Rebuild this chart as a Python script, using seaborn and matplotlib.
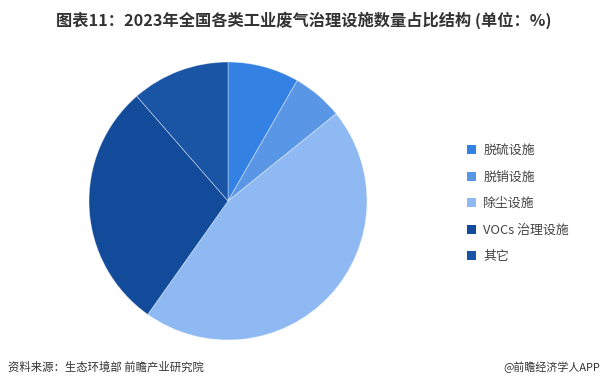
import matplotlib
matplotlib.use("Agg")
import matplotlib.pyplot as plt
import seaborn as sns
from matplotlib.patches import Patch

sns.set_theme(style="white")
plt.rcParams['font.family'] = ['Noto Sans CJK SC', 'DejaVu Sans']

categories = ["脱硫设施", "脱销设施", "除尘设施", "VOCs 治理设施", "其它"]
values = [8.3, 5.9, 45.6, 28.8, 11.4]
colors = ["#3381E3", "#5A96E6", "#8FB9F2", "#124B9A", "#1A55A5"]

title = "图表11：2023年全国各类工业废气治理设施数量占比结构 (单位：%)"
source = "资料来源：生态环境部 前瞻产业研究院"
credit = "@前瞻经济学人APP"

fig = plt.figure(figsize=(6.07, 3.88), dpi=100)
fig.patch.set_facecolor("white")

ax = fig.add_axes([89/607, 48/388, 278/607, 278/388])
wedges, _ = ax.pie(values, colors=colors, startangle=90, counterclock=False,
                   radius=1.0,
                   wedgeprops=dict(edgecolor=(1, 1, 1, 0.45), linewidth=0.6))
ax.set_xlim(-1, 1)
ax.set_ylim(-1, 1)
ax.set_aspect("equal")
ax.axis("off")

handles = [Patch(facecolor=c, edgecolor="none") for c in colors]
fig.legend(handles, categories, loc="upper left",
           bbox_to_anchor=(467/607, 1 - 144/388), frameon=False,
           borderpad=0, borderaxespad=0,
           fontsize=9.3, handlelength=0.7, handleheight=0.7,
           handletextpad=0.55, labelspacing=1.05, labelcolor="#444444")

fig.text(0.5, 1 - 20/388, title, ha="center", va="center",
         fontsize=11.7, fontweight="bold", color="#333333")
fig.text(8/607, 1 - 367/388, source, ha="left", va="center",
         fontsize=8.2, color="#333333")
fig.text(600/607, 1 - 367/388, credit, ha="right", va="center",
         fontsize=7.9, color="#333333")

fig.savefig("out.png", dpi=100, facecolor="white")
